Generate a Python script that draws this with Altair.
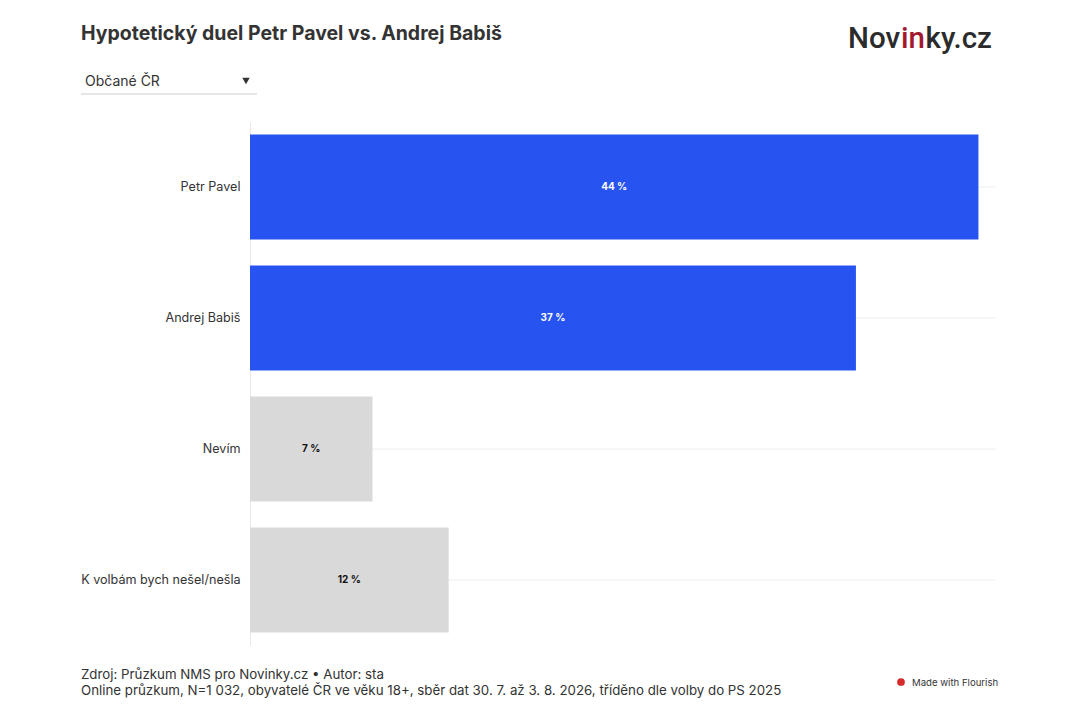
import altair as alt
import pandas as pd

categories = ["Petr Pavel", "Andrej Babiš", "Nevím", "K volbám bych nešel/nešla"]
values = [44.0, 36.6, 7.4, 12.0]
labels = ["44 %", "37 %", "7 %", "12 %"]
colors = ["#2754F0", "#2754F0", "#D9D9D9", "#D9D9D9"]
label_colors = ["#FFFFFF", "#FFFFFF", "#111111", "#111111"]

title_text = "Hypotetický duel Petr Pavel vs. Andrej Babiš"
dropdown_text = "Občané ČR"
footer1 = "Zdroj: Průzkum NMS pro Novinky.cz • Autor: sta"
footer2 = "Online průzkum, N=1 032, obyvatelé ČR ve věku 18+, sběr dat 30. 7. až 3. 8. 2026, tříděno dle volby do PS 2025"
flourish_text = "Made with Flourish"

df = pd.DataFrame({
    "cat": categories,
    "value": values,
    "label": labels,
    "color": colors,
    "lcolor": label_colors,
})

FONT = "Inter"
W, H = 745, 524

y_enc = alt.Y(
    "cat:N",
    sort=categories,
    scale=alt.Scale(paddingInner=0.2, paddingOuter=0.1),
    axis=alt.Axis(
        title=None,
        ticks=False,
        domain=True,
        domainColor="#E8E8E8",
        grid=True,
        gridColor="#EEEEEE",
        labelPadding=10,
        labelFontSize=12.6,
        labelColor="#333333",
        labelFont=FONT,
    ),
)
x_enc = alt.X("value:Q", scale=alt.Scale(domain=[0, 45]), axis=None)

bars = alt.Chart(df).mark_bar().encode(
    x=x_enc, y=y_enc, color=alt.Color("color:N", scale=None)
)

bar_labels = alt.Chart(df).mark_text(
    fontSize=10, fontWeight="bold", font=FONT, align="center", baseline="middle"
).encode(
    x=alt.X("mid:Q", scale=alt.Scale(domain=[0, 45]), axis=None),
    y=alt.Y("cat:N", sort=categories),
    text="label:N",
    color=alt.Color("lcolor:N", scale=None),
).transform_calculate(mid="datum.value / 2")

one = pd.DataFrame({"a": [0]})

def txt(text, x, y, size, color="#333333", weight="normal", align="left", font=FONT):
    return alt.Chart(one).mark_text(
        text=text, fontSize=size, fontWeight=weight, color=color,
        align=align, baseline="alphabetic", font=font
    ).encode(x=alt.value(x), y=alt.value(y))

title = txt(title_text, -169, -81.5, 19.5, color="#333333", weight="bold")
dropdown = txt(dropdown_text, -165, -35.5, 14, color="#333333")
tri = alt.Chart(one).mark_point(
    shape="triangle-down", filled=True, color="#333333", size=55, opacity=1
).encode(x=alt.value(-4), y=alt.value(-40.5))
underline = alt.Chart(one).mark_rule(color="#CCCCCC", strokeWidth=1).encode(
    x=alt.value(-169), x2=alt.value(7), y=alt.value(-27.5)
)

logo1 = txt("Nov", 598, -73.5, 29.5, color="#2B2B2B", weight=500, font="Roboto")
logo2 = txt("in", 651, -73.5, 29.5, color="#A3182F", weight=500, font="Roboto")
logo3 = txt("ky.cz", 675.5, -73.5, 29.5, color="#2B2B2B", weight=500, font="Roboto")

f1 = txt(footer1, -169, 557.5, 13.3, color="#333333")
f2 = txt(footer2, -169, 573.5, 13.3, color="#333333")
fl_icon = alt.Chart(one).mark_point(
    shape="circle", filled=True, color="#D42A2A", size=60, opacity=1
).encode(x=alt.value(651), y=alt.value(560.5))
fl_text = txt(flourish_text, 662, 564, 9.6, color="#333333")

chart = alt.layer(
    bars, bar_labels, title, dropdown, tri, underline,
    logo1, logo2, logo3, f1, f2, fl_icon, fl_text
).properties(
    width=W, height=H,
    background="#FFFFFF",
    autosize=alt.AutoSizeParams(type="none"),
    padding={"left": 242, "top": 113.5, "right": 70, "bottom": 60},
).configure_view(stroke=None)

chart.save("out.html", embed_options={"renderer": "svg", "actions": False})
